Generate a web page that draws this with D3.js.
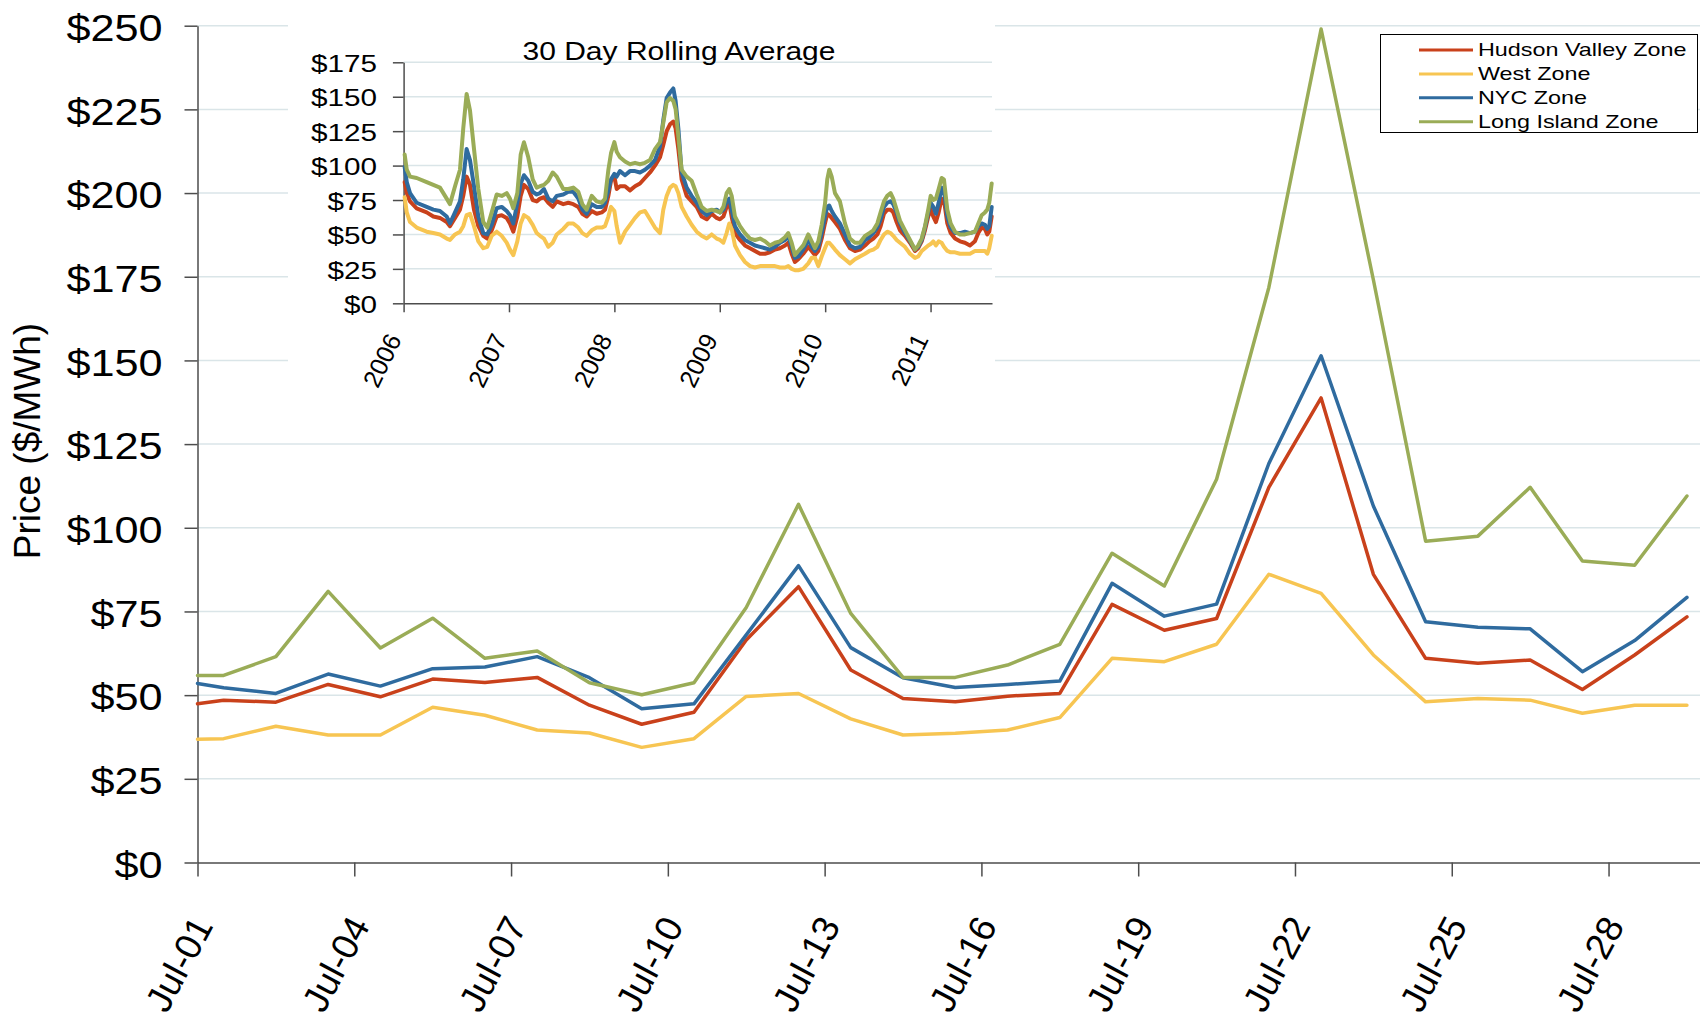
<!DOCTYPE html>
<html>
<head>
<meta charset="utf-8">
<title>Zone prices, July</title>
<script src="https://cdnjs.cloudflare.com/ajax/libs/d3/7.8.5/d3.min.js"></script>
<style>
  body { margin: 0; background: white; }
  svg { font-family: "Liberation Sans", Arial, sans-serif; }
  .grid line { stroke: #dae5e8; stroke-width: 1.5px; }
  .axis path, .axis line { stroke: #4d4d4d; stroke-width: 1.5px; }
  .axis text { fill: #000; }
  .zone { fill: none; stroke-linejoin: round; stroke-linecap: round; }
</style>
</head>
<body>
<div id="chart"></div>
<script>
// ---- main chart: daily price, July ----
const dayPos = [0, 0.5, 1.5, 2.5, 3.5, 4.5, 5.5, 6.5, 7.5, 8.5, 9.5, 10.5, 11.5, 12.5, 13.5,
                14.5, 15.5, 16.5, 17.5, 18.5, 19.5, 20.5, 21.5, 22.5, 23.5, 24.5, 25.5, 26.5, 27.5, 28.5];
const tickDays = [0, 3, 6, 9, 12, 15, 18, 21, 24, 27];
const tickLabels = ["Jul-01", "Jul-04", "Jul-07", "Jul-10", "Jul-13", "Jul-16", "Jul-19", "Jul-22", "Jul-25", "Jul-28"];
const priceTicks = [0, 25, 50, 75, 100, 125, 150, 175, 200, 225, 250];

const hudson = [47.4, 48.5, 47.9, 53.2, 49.5, 54.8, 53.8, 55.3, 47.0, 41.3, 44.9, 66.5, 82.4, 57.5, 49.0,
                48.0, 49.7, 50.5, 77.1, 69.4, 72.9, 112.1, 138.8, 86.1, 61.0, 59.5, 60.5, 51.7, 62.0, 73.4];
const west = [36.8, 37.0, 40.7, 38.1, 38.1, 46.4, 44.0, 39.6, 38.7, 34.4, 37.0, 49.6, 50.5, 42.9, 38.1,
              38.6, 39.6, 43.3, 61.0, 60.0, 65.2, 86.1, 80.4, 62.0, 48.0, 49.0, 48.5, 44.6, 47.0, 47.0];
const nyc = [53.5, 52.2, 50.5, 56.3, 52.7, 57.9, 58.4, 61.5, 55.2, 45.9, 47.4, 68.0, 88.7, 64.2, 55.2,
             52.3, 53.2, 54.2, 83.4, 73.6, 77.2, 119.2, 151.4, 106.5, 71.9, 70.3, 69.8, 57.0, 66.3, 79.2];
const longIsland = [55.9, 55.9, 61.5, 81.0, 64.1, 73.0, 61.0, 63.2, 53.7, 50.1, 53.7, 76.2, 107.0, 74.4, 55.3,
                    55.3, 59.0, 65.2, 92.4, 82.6, 114.5, 171.8, 249.0, 174.1, 96.0, 97.5, 112.1, 90.1, 88.8, 109.5];

const zoneNames = ["Hudson Valley Zone", "West Zone", "NYC Zone", "Long Island Zone"];
const zoneColors = ["#c9411b", "#f7c552", "#2f6b9f", "#9aac57"];

// ---- inset: 30 day rolling average ----
const rollYear = [
  2006.010, 2006.030, 2006.061, 2006.124, 2006.219, 2006.282, 2006.345, 2006.409, 2006.440, 2006.488,
  2006.535, 2006.566, 2006.598, 2006.630, 2006.668, 2006.709, 2006.756, 2006.794, 2006.836, 2006.883,
  2006.931, 2006.978, 2007.009, 2007.041, 2007.079, 2007.111, 2007.142, 2007.183, 2007.225, 2007.263,
  2007.294, 2007.332, 2007.373, 2007.415, 2007.453, 2007.515, 2007.563, 2007.610, 2007.658, 2007.696,
  2007.737, 2007.785, 2007.832, 2007.880, 2007.911, 2007.943, 2007.968, 2008.000, 2008.022, 2008.053,
  2008.101, 2008.148, 2008.196, 2008.243, 2008.290, 2008.338, 2008.385, 2008.433, 2008.464, 2008.496,
  2008.528, 2008.559, 2008.581, 2008.607, 2008.638, 2008.686, 2008.733, 2008.781, 2008.828, 2008.876,
  2008.923, 2008.970, 2009.002, 2009.034, 2009.065, 2009.090, 2009.113, 2009.144, 2009.192, 2009.239,
  2009.287, 2009.334, 2009.382, 2009.429, 2009.476, 2009.524, 2009.571, 2009.619, 2009.650, 2009.682,
  2009.713, 2009.745, 2009.792, 2009.840, 2009.872, 2009.903, 2009.935, 2009.967, 2009.998, 2010.020,
  2010.039, 2010.062, 2010.093, 2010.140, 2010.188, 2010.235, 2010.283, 2010.330, 2010.378, 2010.419,
  2010.457, 2010.495, 2010.526, 2010.558, 2010.589, 2010.621, 2010.646, 2010.678, 2010.710, 2010.757,
  2010.805, 2010.852, 2010.883, 2010.916, 2010.947, 2010.978, 2011.001, 2011.026, 2011.051, 2011.077,
  2011.105, 2011.127, 2011.159, 2011.191, 2011.232, 2011.279, 2011.326, 2011.374, 2011.421, 2011.453,
  2011.485, 2011.516, 2011.538, 2011.557, 2011.580];
const rollHudson = [
  88, 80, 74, 69, 66, 63, 62, 59, 56, 62,   68, 78, 92, 86, 68, 56, 49, 47, 53, 63,
  64, 62, 58, 52, 63, 78, 86, 83, 75, 74,   76, 77, 73, 70, 74, 72, 73, 72, 70, 65,
  63, 67, 65, 66, 68, 78, 89, 92, 83, 85,   85, 82, 85, 87, 91, 95, 100, 106, 115, 125,
  130, 132, 127, 112, 90, 78, 74, 70, 63, 61,   65, 62, 61, 63, 70, 73, 63, 51, 46, 42,
  40, 38, 36, 36, 37, 39, 40, 42, 44, 36,   30, 32, 36, 41, 38, 35, 38, 47, 58, 65,
  64, 62, 59, 54, 46, 40, 38, 39, 42, 45,   47, 50, 56, 65, 68, 68, 66, 59, 53, 49,
  44, 38, 40, 45, 53, 63, 68, 63, 59, 66,   76, 75, 58, 51, 47, 45, 44, 42, 45, 51,
  55, 54, 50, 52, 63];
const rollWest = [
  77, 66, 59, 55, 52, 51, 50, 47, 46, 50,   52, 56, 64, 65, 56, 45, 40, 41, 49, 52,
  49, 44, 39, 35, 45, 58, 64, 62, 57, 51,   49, 47, 41, 44, 50, 54, 58, 58, 55, 51,
  49, 53, 55, 55, 56, 63, 70, 67, 56, 44,   52, 57, 62, 66, 67, 61, 55, 51, 68, 78,
  84, 86, 85, 80, 70, 63, 57, 52, 49, 47,   50, 47, 46, 44, 51, 58, 54, 42, 35, 30,
  27, 26, 27, 27, 27, 27, 26, 26, 27, 25,   24, 24, 25, 29, 33, 33, 27, 34, 40, 44,
  44, 42, 39, 35, 32, 29, 32, 34, 36, 38,   39, 41, 46, 50, 52, 51, 49, 46, 44, 41,
  36, 33, 34, 38, 40, 42, 43, 45, 42, 45,   44, 41, 38, 37, 37, 36, 36, 36, 38, 38,
  38, 38, 36, 40, 49];
const rollNyc = [
  99, 88, 80, 73, 70, 68, 67, 63, 58, 66,   74, 90, 112, 104, 85, 63, 51, 50, 57, 69,
  70, 67, 64, 58, 73, 87, 93, 89, 81, 79,   80, 83, 76, 74, 78, 79, 81, 81, 76, 68,
  65, 72, 70, 70, 73, 82, 90, 94, 92, 96,   93, 96, 96, 95, 97, 100, 104, 114, 133, 149,
  153, 156, 147, 127, 95, 84, 78, 73, 67, 64,   67, 68, 66, 68, 74, 76, 68, 56, 50, 46,
  44, 42, 41, 40, 39, 41, 44, 46, 49, 41,   33, 34, 39, 46, 41, 38, 41, 51, 63, 70,
  71, 67, 63, 58, 50, 42, 40, 41, 46, 48,   51, 55, 61, 70, 73, 74, 72, 66, 58, 51,
  45, 39, 41, 46, 55, 66, 73, 70, 65, 73,   84, 82, 63, 55, 51, 51, 52, 51, 52, 56,
  58, 57, 54, 56, 70];
const rollLongIsland = [
  108, 97, 92, 91, 88, 86, 84, 76, 72, 85,   97, 127, 152, 140, 112, 83, 59, 55, 66, 79,
  78, 80, 76, 69, 80, 108, 117, 106, 90, 84,   85, 86, 89, 95, 92, 83, 83, 84, 81, 72,
  68, 78, 74, 73, 76, 97, 109, 117, 110, 106,   103, 101, 102, 101, 102, 104, 112, 117, 131, 146,
  149, 147, 141, 121, 97, 92, 89, 79, 70, 67,   68, 67, 66, 70, 80, 83, 78, 63, 56, 51,
  47, 46, 47, 45, 42, 44, 45, 48, 51, 44,   35, 38, 42, 50, 45, 40, 45, 57, 72, 90,
  97, 92, 80, 74, 58, 47, 44, 44, 49, 51,   53, 58, 66, 74, 78, 80, 76, 68, 60, 53,
  46, 39, 42, 47, 56, 68, 78, 75, 76, 83,   91, 90, 68, 58, 52, 50, 50, 51, 52, 58,
  64, 66, 68, 73, 87];
const yearTicks = [2006, 2007, 2008, 2009, 2010, 2011];
const rollTicks = [0, 25, 50, 75, 100, 125, 150, 175];

// stretch text horizontally (the source picture is wider than its fonts)
function stretch(sel, k) {
  sel.each(function() {
    const w = this.getComputedTextLength();
    d3.select(this).attr("textLength", w * k).attr("lengthAdjust", "spacingAndGlyphs");
  });
}

const width = 1700, height = 1024;
const svg = d3.select("#chart").append("svg")
  .attr("width", width).attr("height", height);

const x = d3.scaleLinear().domain([0, 28.75]).range([197.5, 1700]);
const y = d3.scaleLinear().domain([0, 250]).range([862.5, 25.7]);

// gridlines
svg.append("g").attr("class", "grid")
  .selectAll("line").data(priceTicks.slice(1)).join("line")
  .attr("x1", x(0)).attr("x2", 1700)
  .attr("y1", d => y(d)).attr("y2", d => y(d));

// y axis
const yAxis = svg.append("g").attr("class", "axis")
  .attr("transform", `translate(${x(0)},0)`)
  .call(d3.axisLeft(y).tickValues(priceTicks).tickFormat(d => "$" + d)
    .tickSize(13).tickSizeOuter(0).tickPadding(22));
yAxis.selectAll("text")
  .attr("font-size", 36).attr("font-family", null).attr("dy", "0.41em")
  .call(stretch, 1.2);

// x axis
const xAxis = svg.append("g").attr("class", "axis")
  .attr("transform", `translate(0,${y(0)})`)
  .call(d3.axisBottom(x).tickValues(tickDays).tickFormat((d, i) => tickLabels[i])
    .tickSize(14).tickSizeOuter(0));
xAxis.selectAll("text")
  .attr("font-size", 37).attr("font-family", null)
  .attr("x", 0).attr("y", 0).attr("dy", 0)
  .attr("text-anchor", "end")
  .attr("transform", "translate(16,63) rotate(-62)");

// y title
svg.append("text")
  .attr("transform", "translate(40,441) rotate(-90)")
  .attr("text-anchor", "middle")
  .attr("font-size", 37)
  .text("Price ($/MWh)");

// main lines (Excel series order, last on top)
const mainSeries = [hudson, west, nyc, longIsland];
const line = d3.line().x((d, i) => x(dayPos[i])).y(d => y(d));
svg.append("g").selectAll("path").data(mainSeries).join("path")
  .attr("class", "zone")
  .attr("stroke", (d, i) => zoneColors[i])
  .attr("stroke-width", 3.5)
  .attr("d", line);

// ---- inset ----
const inset = svg.append("g");
inset.append("rect")
  .attr("x", 288).attr("y", 0).attr("width", 707).attr("height", 400)
  .attr("fill", "white");

const ix = d3.scaleLinear().domain([2006, 2011.583]).range([403.6, 992]);
const iy = d3.scaleLinear().domain([0, 175]).range([303.3, 62.3]);

inset.append("g").attr("class", "grid")
  .selectAll("line").data(rollTicks.slice(1)).join("line")
  .attr("x1", ix(2006)).attr("x2", ix(2011.583))
  .attr("y1", d => iy(d)).attr("y2", d => iy(d));

const iyAxis = inset.append("g").attr("class", "axis")
  .attr("transform", `translate(${ix(2006)},0)`)
  .call(d3.axisLeft(iy).tickValues(rollTicks).tickFormat(d => "$" + d)
    .tickSize(10.7).tickSizeOuter(0).tickPadding(16));
iyAxis.selectAll("text")
  .attr("font-size", 23).attr("font-family", null).attr("dy", "0.4em")
  .call(stretch, 1.29);

const ixAxis = inset.append("g").attr("class", "axis")
  .attr("transform", `translate(0,${iy(0)})`)
  .call(d3.axisBottom(ix).tickValues(yearTicks).tickFormat(d3.format("d"))
    .tickSize(9).tickSizeOuter(0));
ixAxis.selectAll("text")
  .attr("font-size", 25).attr("font-family", null)
  .attr("x", 0).attr("y", 0).attr("dy", 0)
  .attr("text-anchor", "end")
  .attr("transform", "translate(-2,36) rotate(-64)");

const rollSeries = [rollHudson, rollWest, rollNyc, rollLongIsland];
const rollLine = d3.line().x((d, i) => ix(rollYear[i])).y(d => iy(d));
inset.append("g").selectAll("path").data(rollSeries).join("path")
  .attr("class", "zone")
  .attr("stroke", (d, i) => zoneColors[i])
  .attr("stroke-width", 4)
  .attr("d", rollLine);

inset.append("text")
  .attr("x", 679).attr("y", 60)
  .attr("text-anchor", "middle")
  .attr("font-size", 25)
  .text("30 Day Rolling Average")
  .call(stretch, 1.2);

// ---- legend ----
const legend = svg.append("g");
legend.append("rect")
  .attr("x", 1380.5).attr("y", 34.5).attr("width", 317).attr("height", 98)
  .attr("fill", "white").attr("stroke", "#000").attr("stroke-width", 1);
const item = legend.selectAll("g.item").data(zoneNames).join("g")
  .attr("class", "item")
  .attr("transform", (d, i) => `translate(0,${i * 23.9})`);
item.append("line")
  .attr("x1", 1419).attr("x2", 1473).attr("y1", 50).attr("y2", 50)
  .attr("stroke", (d, i) => zoneColors[i]).attr("stroke-width", 3);
item.append("text")
  .attr("x", 1478).attr("y", 56)
  .attr("font-size", 17.7)
  .text(d => d)
  .call(stretch, 1.32);
</script>
</body>
</html>
